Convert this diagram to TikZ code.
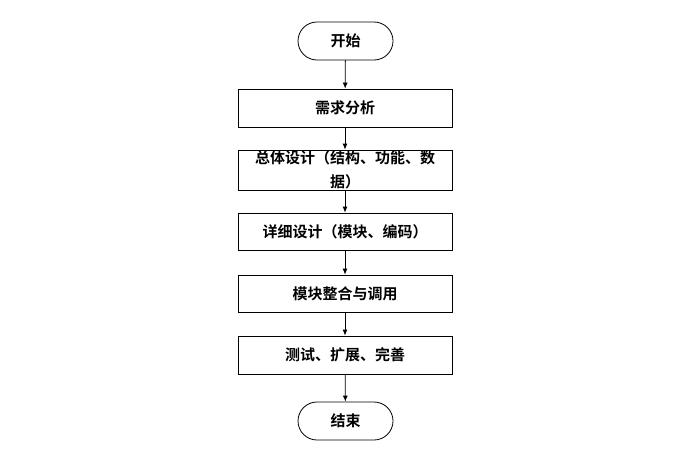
\documentclass[tikz,border=0pt]{standalone}
\usepackage{fontspec}
\newfontfamily\cjk{Noto Sans CJK SC}[BoldFont={Noto Sans CJK SC Bold}]
\usetikzlibrary{arrows.meta}
\begin{document}
\begin{tikzpicture}[x=1pt,y=-1pt,
  stepbox/.style={draw=black,line width=0.8pt,minimum width=214pt,minimum height=38pt,inner sep=0pt,font=\cjk\bfseries\fontsize{15pt}{24pt}\selectfont,align=center},
  term/.style={draw=black,line width=0.8pt,rounded corners=19pt,minimum width=95pt,minimum height=38pt,inner sep=0pt,font=\cjk\bfseries\fontsize{15pt}{24pt}\selectfont},
  conn/.style={draw=black,line width=0.8pt,-{Latex[length=6pt,width=5pt]}}]
\useasboundingbox (0,0) rectangle (690,464);
\node[term] (start) at (345.5,41) {开始};
\node[stepbox] (a) at (345,108) {需求分析};
\node[stepbox,minimum height=40pt] (b) at (345,170) {总体设计（结构、功能、数\\据）};
\node[stepbox,minimum height=37pt] (c) at (345,231.5) {详细设计（模块、编码）};
\node[stepbox,minimum height=37pt] (d) at (345,293.5) {模块整合与调用};
\node[stepbox] (e) at (345,355) {测试、扩展、完善};
\node[term] (end) at (345.5,421) {结束};
\draw[conn] (start) -- (a);
\draw[conn] (a) -- (b);
\draw[conn] (b) -- (c);
\draw[conn] (c) -- (d);
\draw[conn] (d) -- (e);
\draw[conn] (e) -- (end);
\end{tikzpicture}
\end{document}
